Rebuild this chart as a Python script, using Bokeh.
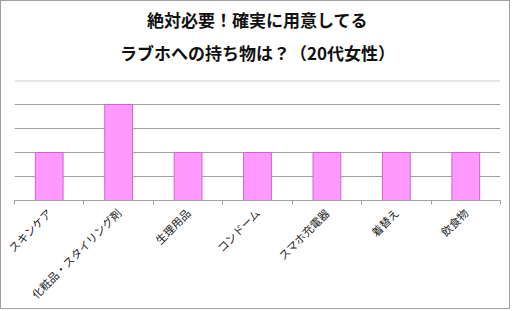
from bokeh.plotting import figure
from bokeh.models import Range1d, FixedTicker, Span, Title
from bokeh.embed import file_html
from bokeh.resources import INLINE
import math

categories = ["スキンケア", "化粧品・スタイリング剤", "生理用品", "コンドーム", "スマホ充電器", "着替え", "飲食物"]
values = [2, 4, 2, 2, 2, 2, 2]
title_line1 = "絶対必要！確実に用意してる"
title_line2 = "ラブホへの持ち物は？（20代女性）"

n = len(categories)
xs = [i + 0.5 for i in range(n)]

FONT = "Noto Sans CJK JP"

p = figure(width=510, height=309, output_backend="svg", toolbar_location=None,
           x_range=Range1d(0, n), y_range=Range1d(0, 5),
           min_border_left=13, min_border_right=11, min_border_top=0, min_border_bottom=0)
p.styles = {"border": "1px solid #a0a0a0"}
p.outline_line_color = None
p.background_fill_color = "white"
p.border_fill_color = "white"

spacer = Title(text=" ", text_font_size="1px", standoff=10)
t2 = Title(text=title_line2, align="center", text_font=FONT, text_font_size="17px",
           text_font_style="bold", text_color="#111111", standoff=6, offset=0)
t1 = Title(text=title_line1, align="center", text_font=FONT, text_font_size="17px",
           text_font_style="bold", text_color="#111111", standoff=6)
p.add_layout(spacer, "above")
p.add_layout(t2, "above")
p.add_layout(t1, "above")

p.vbar(x=xs, top=values, width=0.4, fill_color="#FF99FF", line_color="#CC66CC", line_width=1)

p.yaxis.visible = False
p.xgrid.visible = False
p.ygrid.ticker = FixedTicker(ticks=[1, 2, 3, 4])
p.ygrid.grid_line_color = "#a0a0a0"
p.ygrid.grid_line_width = 1

p.add_layout(Span(location=5, dimension="width", line_color="#cfcfcf", line_width=2))

ax = p.xaxis[0]
ax.ticker = FixedTicker(ticks=xs, minor_ticks=list(range(n + 1)))
ax.major_label_overrides = {x: c for x, c in zip(xs, categories)}
ax.major_label_orientation = math.pi / 4
ax.major_label_text_font = FONT
ax.major_label_text_font_size = "11px"
ax.major_label_text_color = "#222222"
ax.major_tick_line_color = None
ax.minor_tick_line_color = "#a0a0a0"
ax.minor_tick_out = 4
ax.minor_tick_in = 0
ax.axis_line_color = "#a0a0a0"
ax.major_label_standoff = 4

open("out.html", "w").write(file_html(p, INLINE))
